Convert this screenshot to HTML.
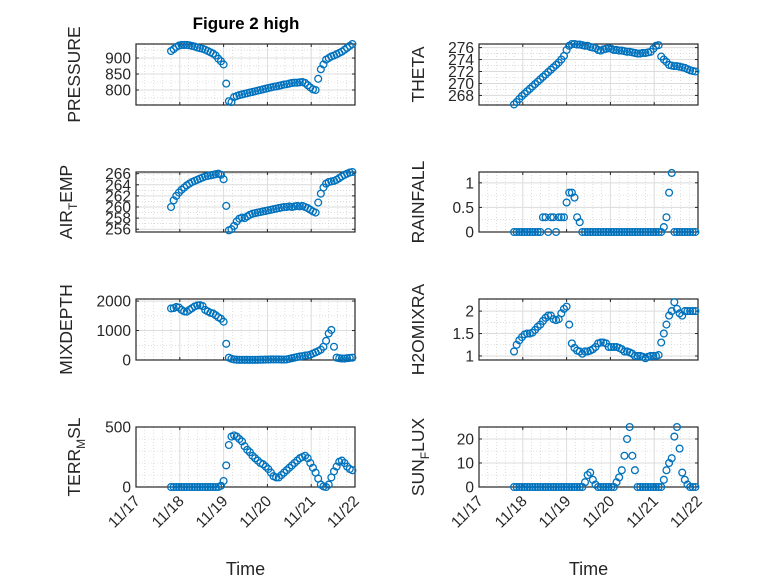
<!DOCTYPE html>
<html><head><meta charset="utf-8"><style>
html,body{margin:0;padding:0;background:#fff;}
svg{display:block;font-family:"Liberation Sans",sans-serif;}
</style></head><body>
<svg id="fig" width="778" height="583" viewBox="0 0 778 583"></svg>
<script>
// ---- data (days since 11/17 00:00) ----
const days=[0.80,0.86,0.92,0.98,1.04,1.10,1.16,1.22,1.28,1.34,1.40,1.46,1.52,1.58,1.64,1.70,1.76,1.82,1.88,1.94,2.00,2.06,2.12,2.18,2.24,2.30,2.36,2.42,2.48,2.54,2.60,2.66,2.72,2.78,2.84,2.90,2.96,3.02,3.08,3.14,3.20,3.26,3.32,3.38,3.44,3.50,3.56,3.62,3.68,3.74,3.80,3.86,3.92,3.98,4.04,4.10,4.16,4.22,4.28,4.34,4.40,4.46,4.52,4.58,4.64,4.70,4.76,4.82,4.88,4.94];
const xTickLabels=["11/17","11/18","11/19","11/20","11/21","11/22"];
const pressure=[922,928,935,939,941,941,941,940,938,936,933,931,929,926,922,918,914,908,898,890,880,820,765,762,778,781,784,786,788,790,792,794,796,798,800,802,804,806,808,810,811,813,815,817,818,820,822,823,823,824,825,822,815,808,802,800,835,865,880,895,900,905,908,912,916,920,926,932,938,944];
const theta=[266.5,266.9,267.4,267.9,268.3,268.7,269.1,269.5,269.9,270.3,270.7,271.1,271.5,271.9,272.3,272.7,273.1,273.5,274.0,274.6,275.6,276.3,276.6,276.6,276.5,276.5,276.4,276.3,276.3,276.1,276.0,275.9,275.6,275.5,275.7,275.8,275.9,275.8,275.6,275.6,275.5,275.5,275.4,275.3,275.3,275.2,275.1,275.0,275.0,275.1,275.1,275.2,275.3,275.8,276.3,276.4,274.5,274.0,273.6,273.1,273.0,272.9,272.9,272.8,272.7,272.6,272.4,272.2,272.1,272.0];
const airTemp=[260.0,261.2,262.0,262.6,263.1,263.5,263.9,264.2,264.5,264.7,264.9,265.1,265.3,265.5,265.6,265.7,265.8,265.9,266.0,265.8,265.0,260.2,255.8,256.0,256.6,257.4,257.9,258.1,258.0,258.3,258.6,258.8,258.9,259.0,259.1,259.2,259.3,259.4,259.5,259.6,259.7,259.8,259.9,260.0,260.0,260.1,260.0,260.1,260.2,260.1,260.2,260.0,259.8,259.5,259.2,259.0,260.8,262.4,263.5,264.2,264.5,264.6,264.7,264.9,265.2,265.5,265.8,266.0,266.2,266.3];
const rainfall=[0,0,0,0,0,0,0,0,0,0,0,0.3,0.3,0,0.3,0.3,0,0.3,0.3,0.3,0.6,0.8,0.8,0.7,0.3,0.2,0,0,0,0,0,0,0,0,0,0,0,0,0,0,0,0,0,0,0,0,0,0,0,0,0,0,0,0,0,0,0,0.1,0.3,0.8,1.2,0,0,0,0,0,0,0,0,0];
const mixDepth=[1750,1760,1800,1780,1700,1650,1640,1700,1760,1820,1850,1860,1830,1700,1650,1600,1580,1520,1450,1400,1300,550,80,40,20,10,5,5,5,5,5,5,5,5,10,10,15,15,20,20,20,20,15,15,20,40,60,80,100,120,130,150,160,180,220,260,300,350,450,650,900,1020,450,80,60,50,50,60,70,80];
const h2oMix=[1.10,1.25,1.35,1.42,1.48,1.50,1.50,1.52,1.58,1.65,1.70,1.78,1.85,1.90,1.90,1.82,1.80,1.82,1.95,2.05,2.10,1.70,1.28,1.18,1.12,1.10,1.05,1.10,1.10,1.12,1.15,1.20,1.28,1.30,1.30,1.28,1.20,1.20,1.20,1.20,1.18,1.15,1.10,1.10,1.08,1.05,1.00,1.00,1.00,0.98,0.95,0.98,1.00,1.00,1.00,1.02,1.30,1.50,1.70,1.90,2.00,2.20,2.05,1.95,1.90,2.00,2.00,2.00,2.00,2.00];
const terrMsl=[0,0,0,0,0,0,0,0,0,0,0,0,0,0,0,0,0,0,0,10,50,180,350,420,430,420,400,380,340,310,290,260,240,220,200,190,170,150,120,90,80,80,100,120,140,160,180,200,220,240,250,260,240,200,160,120,70,20,5,0,20,80,130,170,210,220,200,170,150,140];
const sunFlux=[0,0,0,0,0,0,0,0,0,0,0,0,0,0,0,0,0,0,0,0,0,0,0,0,0,0,0,2,5,6,3,1,0,0,0,0,0,0,0,2,4,7,13,20,25,13,7,0,0,0,0,0,0,0,0,0,0,3,7,10,12,21,25,16,6,3,1,0,0,0];
const pressureTicks=[800,850,900];
const thetaTicks=[268,270,272,274,276];
const airTempTicks=[256,258,260,262,264,266];
const rainTicks=[0,0.5,1];
const mixTicks=[0,1000,2000];
const h2oTicks=[1,1.5,2];
const terrTicks=[0,500];
const sunTicks=[0,10,20];

const NS="http://www.w3.org/2000/svg";
const svg=document.getElementById('fig');
function mk(tag,attrs,parent){const e=document.createElementNS(NS,tag);for(const k in attrs)e.setAttribute(k,attrs[k]);(parent||svg).appendChild(e);return e;}

const panels=[
 {name:'pressure',vals:pressure,ticks:pressureTicks,ylim:[753,944],x0:136,x1:355,y0:44,y1:105,lab:'PRESSURE',labX:80,minorY:[775,825,875,925]},
 {name:'theta',vals:theta,ticks:thetaTicks,ylim:[266.4,276.6],x0:479,x1:698,y0:44,y1:105,lab:'THETA',labX:424,minorY:[267,269,271,273,275]},
 {name:'air-temp',vals:airTemp,ticks:airTempTicks,ylim:[255.5,266.3],x0:136,x1:355,y0:172,y1:232,lab:['AIR','T','EMP'],labX:72,minorY:[257,259,261,263,265]},
 {name:'rainfall',vals:rainfall,ticks:rainTicks,ylim:[0,1.22],x0:479,x1:698,y0:172,y1:232,lab:'RAINFALL',labX:424,minorY:[0.25,0.75]},
 {name:'mixdepth',vals:mixDepth,ticks:mixTicks,ylim:[0,2070],x0:136,x1:355,y0:299,y1:360,lab:'MIXDEPTH',labX:72,minorY:[500,1500]},
 {name:'h2o-mix',vals:h2oMix,ticks:h2oTicks,ylim:[0.91,2.27],x0:479,x1:698,y0:299,y1:360,lab:'H2OMIXRA',labX:424,minorY:[1.25,1.75]},
 {name:'terr-msl',vals:terrMsl,ticks:terrTicks,ylim:[0,500],x0:136,x1:355,y0:427,y1:487,lab:['TERR','M','SL'],labX:80,minorY:[100,200,300,400],bottom:true},
 {name:'sun-flux',vals:sunFlux,ticks:sunTicks,ylim:[0,25],x0:479,x1:698,y0:427,y1:487,lab:['SUN','F','LUX'],labX:424,minorY:[5,15,25],bottom:true}
];

function drawPanel(p){
 const g=mk('g',{});
 
 
 const xs=d=>p.x0+(d/5)*(p.x1-p.x0);
 const ys=v=>p.y1-(v-p.ylim[0])/(p.ylim[1]-p.ylim[0])*(p.y1-p.y0);
 for(let d=0;d<5;d+=0.2){ if(Math.abs(d-Math.round(d))<1e-6)continue;
  const l=mk('line',{x1:xs(d),x2:xs(d),y1:p.y0,y2:p.y1,stroke:'#c8c8c8','stroke-width':0.6,'stroke-dasharray':'1 2'},g);
  
  }
 p.minorY.forEach(v=>{const l=mk('line',{x1:p.x0,x2:p.x1,y1:ys(v),y2:ys(v),stroke:'#c8c8c8','stroke-width':0.6,'stroke-dasharray':'1 2'},g);
  
  });
 for(let d=1;d<5;d++){const l=mk('line',{x1:xs(d),x2:xs(d),y1:p.y0,y2:p.y1,stroke:'#dcdcdc','stroke-width':1},g);
  
  }
 p.ticks.forEach(v=>{const y=ys(v);
  const l=mk('line',{x1:p.x0,x2:p.x1,y1:y,y2:y,stroke:'#dcdcdc','stroke-width':1},g);
  
  
  mk('line',{x1:p.x0,x2:p.x0+3,y1:y,y2:y,stroke:'#262626'},g);
  mk('line',{x1:p.x1,x2:p.x1-3,y1:y,y2:y,stroke:'#262626'},g);
  const t=mk('text',{x:p.x0-5,y:y+5.5,'text-anchor':'end','font-size':15.5,fill:'#262626'},g);
  t.textContent=String(v);
  
  });
 for(let d=0;d<=5;d++){
  mk('line',{x1:xs(d),x2:xs(d),y1:p.y1,y2:p.y1-3,stroke:'#262626'},g);
  mk('line',{x1:xs(d),x2:xs(d),y1:p.y0,y2:p.y0+3,stroke:'#262626'},g);
  if(p.bottom){const tx=xs(d)+5, ty=p.y1+15;
   const t=mk('text',{x:tx,y:ty,'text-anchor':'end','font-size':15.5,fill:'#262626',transform:'rotate(-45 '+tx+' '+ty+')'},g);
   t.textContent=xTickLabels[d];
   
   }
 }
 const box=mk('rect',{x:p.x0,y:p.y0,width:p.x1-p.x0,height:p.y1-p.y0,fill:'none',stroke:'#262626','stroke-width':1.2},g);
 
 
 p.vals.forEach((v,i)=>{const c=mk('circle',{cx:xs(days[i]),cy:ys(v),r:3.4,fill:'none',stroke:'#0072BD','stroke-width':1.3},g);
  
  });
 const cy=(p.y0+p.y1)/2;
 const t=mk('text',{x:p.labX,y:cy,'text-anchor':'middle','font-size':17.5,fill:'#262626',transform:'rotate(-90 '+p.labX+' '+cy+')'},g);
 if(Array.isArray(p.lab)){
  const a=mk('tspan',{},t);a.textContent=p.lab[0];
  const b=mk('tspan',{'font-size':12,dy:5},t);b.textContent=p.lab[1];
  const c=mk('tspan',{dy:-5},t);c.textContent=p.lab[2];
 } else t.textContent=p.lab;
 
 
 if(p.bottom){const tt=mk('text',{x:(p.x0+p.x1)/2,y:575,'text-anchor':'middle','font-size':18,fill:'#262626'},g);
  tt.textContent='Time';
  
  }
}
panels.forEach(drawPanel);
const title=mk('text',{x:246,y:29,'text-anchor':'middle','font-size':17,'font-weight':'bold',fill:'#000'});
title.textContent='Figure 2 high';


</script>
</body></html>
